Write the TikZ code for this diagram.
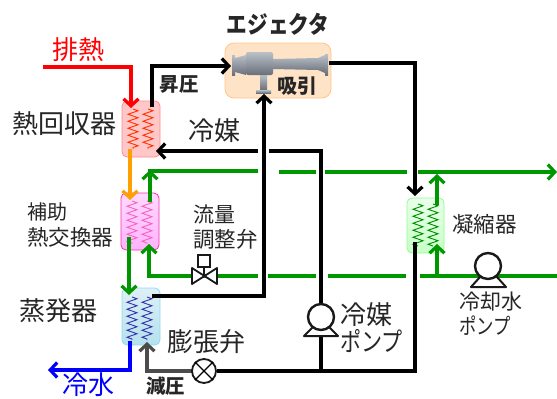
\documentclass[tikz,border=0pt]{standalone}
\usepackage{fontspec}
\setmainfont{Noto Sans CJK JP}
\usetikzlibrary{arrows.meta,decorations.pathmorphing}
\definecolor{gline}{RGB}{0,150,0}
\definecolor{orangeline}{RGB}{255,160,0}
\definecolor{evtop}{RGB}{222,240,245}
\definecolor{evbot}{RGB}{180,225,238}
\definecolor{steel}{RGB}{150,160,172}
\definecolor{steeld}{RGB}{105,112,122}
\definecolor{steell}{RGB}{185,192,200}
\newcommand{\fs}[1]{\fontsize{#1}{#1}\selectfont}
\tikzset{
 pipe/.style={line width=4pt,line join=miter},
 thin pipe/.style={line width=3.4pt,line join=miter},
 tip/.style={-{Straight Barb[length=7pt,width=15pt,line width=3.2pt]}},
 hx/.style={draw=#1!45,rounded corners=5pt,inner sep=0,line width=.8pt},
 coil/.style={decorate,decoration={zigzag,segment length=7pt,amplitude=5pt},line width=.9pt},
 lab/.style={inner sep=0,text=black!85},
 sym/.style={draw=black!90,line width=1.8pt,fill=white},
}
\begin{document}
\begin{tikzpicture}[x=1pt,y=-1pt]
\useasboundingbox (0,0) rectangle (557,399);
% equipment boxes
\node[hx=orange,rounded corners=9pt,fill=orange!22!white,minimum width=106pt,minimum height=55pt] (ej) at (278,70.5) {};
\node[hx=red,fill=red!22!white,minimum width=38pt,minimum height=56pt] (hr) at (141,129) {};
\node[hx=magenta,top color=magenta!15!white,bottom color=magenta!30!white,draw=magenta!80,minimum width=38pt,minimum height=57pt] (aux) at (140,221.5) {};
\node[hx=cyan,top color=evtop,bottom color=evbot,minimum width=38pt,minimum height=57pt] (ev) at (141,316.5) {};
\node[hx=green,top color=green!8!white,bottom color=green!22!white,minimum width=37pt,minimum height=55pt] (co) at (425.5,225.5) {};
% coils
\draw[coil,draw=red!60!orange] (133,109)--(133,149);
\draw[coil,draw=red!60!orange] (148,109)--(148,149);
\draw[coil,draw=magenta!60] (132,201)--(132,244);
\draw[coil,draw=magenta!60] (147,201)--(147,244);
\draw[coil,draw=blue!60!black!80] (132,297)--(132,340);
\draw[coil,draw=blue!60!black!80] (147,297)--(147,340);
\draw[coil,draw=green!55!black] (418,204)--(418,246);
\draw[coil,draw=green!55!black] (433,204)--(433,246);
% ejector body
\shade[top color=steell,bottom color=steeld] (260,75) rectangle (267,90);
\shade[top color=steell,bottom color=steeld] (256,90) rectangle (271,93);
\shade[top color=steell,middle color=steel,bottom color=steeld] (273,59)--(318,58)--(325,55)--(325,73)--(318,70)--(273,69)--cycle;
\shade[top color=steell,bottom color=steeld] (325,54) rectangle (328,75);
\shade[top color=steell,bottom color=steeld] (232,55) rectangle (235,75);
\shade[top color=steell,bottom color=steeld] (235,58)--(246,55)--(246,75)--(235,72)--cycle;
\shade[top color=steell,middle color=steel,bottom color=steeld,rounded corners=2pt] (246,52) rectangle (273,75);
% waypoints
\coordinate (r0) at (43,67); \coordinate (r1) at (131,67);
\coordinate (hrout) at (152,107); \coordinate (hrc) at (152,66); \coordinate (ejin) at (231,66);
\coordinate (ejout) at (329,63); \coordinate (ejc) at (415,63); \coordinate (coin) at (415,196);
\coordinate (coout) at (415,242); \coordinate (cob) at (415,371); \coordinate (pj) at (321,371);
\coordinate (rt) at (321,151);
\coordinate (evout) at (152,296); \coordinate (evc) at (264,296); \coordinate (ejs) at (264,94);
% black refrigerant
\draw[pipe,black,tip] (hrout)--(hrc)--(ejin);
\draw[pipe,black,tip] (ejout)--(ejc)--(coin);
\draw[thin pipe,black,tip] (evout)--(evc)--(ejs);
\draw[pipe,black] (coout)--(cob)--(217,371);
\draw[pipe,black] (pj)--(321,336);
\draw[pipe,black] (321,304)--(rt)--(269,151);
\draw[pipe,black,tip] (258,151)--(156,151);
% heat source and chilled water
\draw[pipe,red,tip] (r0)--(r1)--(131,108);
\draw[pipe,orangeline,tip] (130,149)--(130,200);
\draw[pipe,gline,tip] (129,237)--(129,295);
\draw[pipe,blue,tip] (130,341)--(130,370)--(48,370);
\draw[pipe,black!70,tip] (192,371)--(147,371)--(147,342);
% green cooling water
\draw[pipe,gline,tip] (150,202)--(150,170);
\draw[pipe,gline] (148,171)--(258,171);
\draw[pipe,gline] (279,171.5)--(316,171.5);
\draw[pipe,gline] (325,172)--(407,172);
\draw[pipe,gline,tip] (418,172)--(557,172);
\draw[pipe,gline,tip] (437,205)--(437,174);
\draw[pipe,gline,tip] (149,276)--(149,244);
\draw[pipe,gline] (147,276)--(258,276);
\draw[pipe,gline] (268,276)--(316,276);
\draw[pipe,gline] (328,276)--(406,276);
\draw[pipe,gline] (420,276)--(557,276);
\draw[pipe,gline,tip] (437,276)--(437,244);
% flow valve
\draw[sym,line join=round] (192,268)--(217,284)--(217,268)--(192,284)--cycle;
\draw[sym,fill=none] (204,276)--(204,267);
\draw[sym] (198,255) rectangle (210,267);
% expansion valve
\node[sym,circle,minimum size=24pt,inner sep=0] (xv) at (204,371) {};
\draw[line width=1.2pt] (xv.north west)--(xv.south east) (xv.north east)--(xv.south west);
% pumps
\draw[sym,line width=2pt,line join=round] (304,336)--(338,336)--(328,326)--(314,326)--cycle;
\node[sym,line width=2.4pt,circle,minimum size=26pt,inner sep=0] (rp) at (321,317) {};
\draw[sym,line width=2pt,line join=round] (471,287)--(506,287)--(497,277)--(480,277)--cycle;
\node[sym,line width=2.4pt,circle,minimum size=26pt,inner sep=0] (cp) at (488,266) {};
% labels
\node[lab,font=\fs{24}\bfseries] (t1) at (278,24) {\scalebox{0.86}[1]{エジェクタ}};
\node[lab,font=\fs{20}\bfseries] (t2) at (297,86) {吸引};
\node[lab,font=\fs{26},text=red] (t3) at (78,50) {排熱};
\node[lab,font=\fs{19.5}\bfseries] (t4) at (179,84) {昇圧};
\node[lab,font=\fs{26}] (t5) at (64.5,124) {熱回収器};
\node[lab,font=\fs{26}] (t6) at (214,131) {冷媒};
\node[lab,font=\fs{20},anchor=west] (t7) at (27,212) {補助};
\node[lab,font=\fs{21.5},anchor=west] (t8) at (27,237) {熱交換器};
\node[lab,font=\fs{21},anchor=west] (t9) at (193,214) {流量};
\node[lab,font=\fs{21.5},anchor=west] (t10) at (193,239) {調整弁};
\node[lab,font=\fs{26}] (t11) at (58.5,311) {蒸発器};
\node[lab,font=\fs{26}] (t12) at (206.5,342) {膨張弁};
\node[lab,font=\fs{26},text=blue] (t13) at (88,385) {冷水};
\node[lab,font=\fs{19.5}\bfseries] (t14) at (165.5,386) {減圧};
\node[lab,font=\fs{26}] (t15) at (366,315) {冷媒};
\node[lab,font=\fs{26}] (t16) at (371.5,341) {\scalebox{0.81}[1]{ポンプ}};
\node[lab,font=\fs{21.5}] (t17) at (484.5,224) {凝縮器};
\node[lab,font=\fs{21}] (t18) at (491,302) {冷却水};
\node[lab,font=\fs{22}] (t19) at (485,326) {\scalebox{0.79}[1]{ポンプ}};
\end{tikzpicture}
\end{document}
